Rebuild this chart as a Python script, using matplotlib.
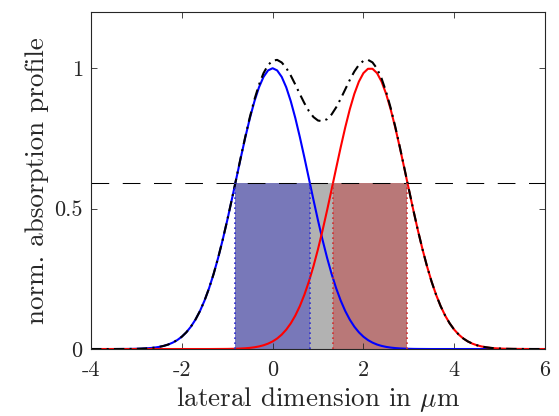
import matplotlib
matplotlib.use('Agg')
import matplotlib.pyplot as plt
import numpy as np

plt.rcParams['font.family'] = 'cmr10'
plt.rcParams['mathtext.fontset'] = 'cm'
plt.rcParams['axes.formatter.use_mathtext'] = True

# lateral position grid (um), step 0.1 from -4 to 6
x = np.round(np.arange(-40, 61) / 10, 1)

# normalised absorption profile of the left emitter
blue = [0, 0, 0, 0, 0, 0,
        0.0001, 0.0002, 0.0003, 0.0005, 0.0009, 0.0014, 0.0022, 0.0034, 0.0051, 0.0076,
        0.0111, 0.0160, 0.0228, 0.0319, 0.0439, 0.0596, 0.0796, 0.1046, 0.1353, 0.1724,
        0.2163, 0.2670, 0.3247, 0.3886, 0.4578, 0.5311, 0.6065, 0.6819, 0.7548, 0.8226,
        0.8825, 0.9321, 0.9692, 0.9922, 1.0000,
        0.9922, 0.9692, 0.9321, 0.8825, 0.8226, 0.7548, 0.6819, 0.6065, 0.5311, 0.4578,
        0.3886, 0.3247, 0.2670, 0.2163, 0.1724, 0.1353, 0.1046, 0.0796, 0.0596, 0.0439,
        0.0319, 0.0228, 0.0160, 0.0111, 0.0076, 0.0051, 0.0034, 0.0022, 0.0014, 0.0009,
        0.0005, 0.0003, 0.0002, 0.0001,
        0, 0, 0, 0, 0, 0, 0, 0, 0, 0, 0, 0, 0, 0, 0, 0, 0, 0, 0, 0, 0, 0, 0, 0, 0, 0]

# normalised absorption profile of the right emitter
red = [0, 0, 0, 0, 0, 0, 0, 0, 0, 0, 0, 0, 0, 0, 0, 0, 0, 0, 0, 0, 0, 0, 0, 0, 0, 0, 0,
       0.0001, 0.0002, 0.0003, 0.0004, 0.0007, 0.0011, 0.0018, 0.0027, 0.0041, 0.0062,
       0.0092, 0.0134, 0.0192, 0.0270, 0.0375, 0.0513, 0.0690, 0.0914, 0.1192, 0.1530,
       0.1935, 0.2408, 0.2950, 0.3559, 0.4226, 0.4941, 0.5687, 0.6444, 0.7189, 0.7895,
       0.8537, 0.9087, 0.9523, 0.9826, 0.9980,
       0.9980, 0.9826, 0.9523, 0.9087, 0.8537, 0.7895, 0.7189, 0.6444, 0.5687, 0.4941,
       0.4226, 0.3559, 0.2950, 0.2408, 0.1935, 0.1530, 0.1192, 0.0914, 0.0690, 0.0513,
       0.0375, 0.0270, 0.0192, 0.0134, 0.0092, 0.0062, 0.0041, 0.0027, 0.0018, 0.0011,
       0.0007, 0.0004, 0.0003, 0.0002, 0.0001,
       0, 0, 0, 0]

total = np.array(blue) + np.array(red)

threshold = 0.59
blue_band = [-0.82, 0.82]
gray_band = [0.82, 1.33]
red_band = [1.33, 2.97]

xticks = [-4, -2, 0, 2, 4, 6]
xticklabels = ['-4', '-2', '0', '2', '4', '6']
yticks = [0, 0.5, 1]
yticklabels = ['0', '0.5', '1']

fig = plt.figure(figsize=(5.59, 4.16), dpi=100)
ax = fig.add_axes([0.1628, 0.161, 0.8122, 0.81])

ax.plot(x, blue, color='#0000ff', lw=1.5)
ax.plot(x, red, color='#ff0000', lw=1.5)
ax.plot(x, total, color='black', lw=1.5, linestyle=(0, (5, 2.5, 1, 2.5)))
ax.axhline(threshold, color='black', lw=0.75, linestyle=(0, (17, 13)))

ax.fill_between(blue_band, 0, threshold, color=(0.04, 0.04, 0.5), alpha=0.55, lw=0)
ax.fill_between(gray_band, 0, threshold, color=(0.45, 0.45, 0.45), alpha=0.55, lw=0)
ax.fill_between(red_band, 0, threshold, color=(0.5, 0.04, 0.04), alpha=0.55, lw=0)
ax.vlines(blue_band, 0, threshold, colors='#3030d0', lw=1.2, linestyles=(0, (1, 2)))
ax.vlines(red_band, 0, threshold, colors='#d03030', lw=1.2, linestyles=(0, (1, 2)))

ax.set_xlim(-4, 6)
ax.set_ylim(0, 1.2)
ax.set_xticks(xticks)
ax.set_xticklabels(xticklabels)
ax.set_yticks(yticks)
ax.set_yticklabels(yticklabels)
ax.tick_params(direction='in', top=True, right=True, length=4, width=0.6,
               labelsize=16, colors='#262626', pad=6)
ax.tick_params(axis='x', pad=8)
for s in ax.spines.values():
    s.set_linewidth(0.8)
    s.set_color('#262626')

ax.set_xlabel(r'lateral dimension in $\mu$m', fontsize=19.5, color='#262626', labelpad=4)
ax.set_ylabel('norm. absorption profile', fontsize=19.5, color='#262626', labelpad=4)

fig.savefig('out.png', dpi=100)
